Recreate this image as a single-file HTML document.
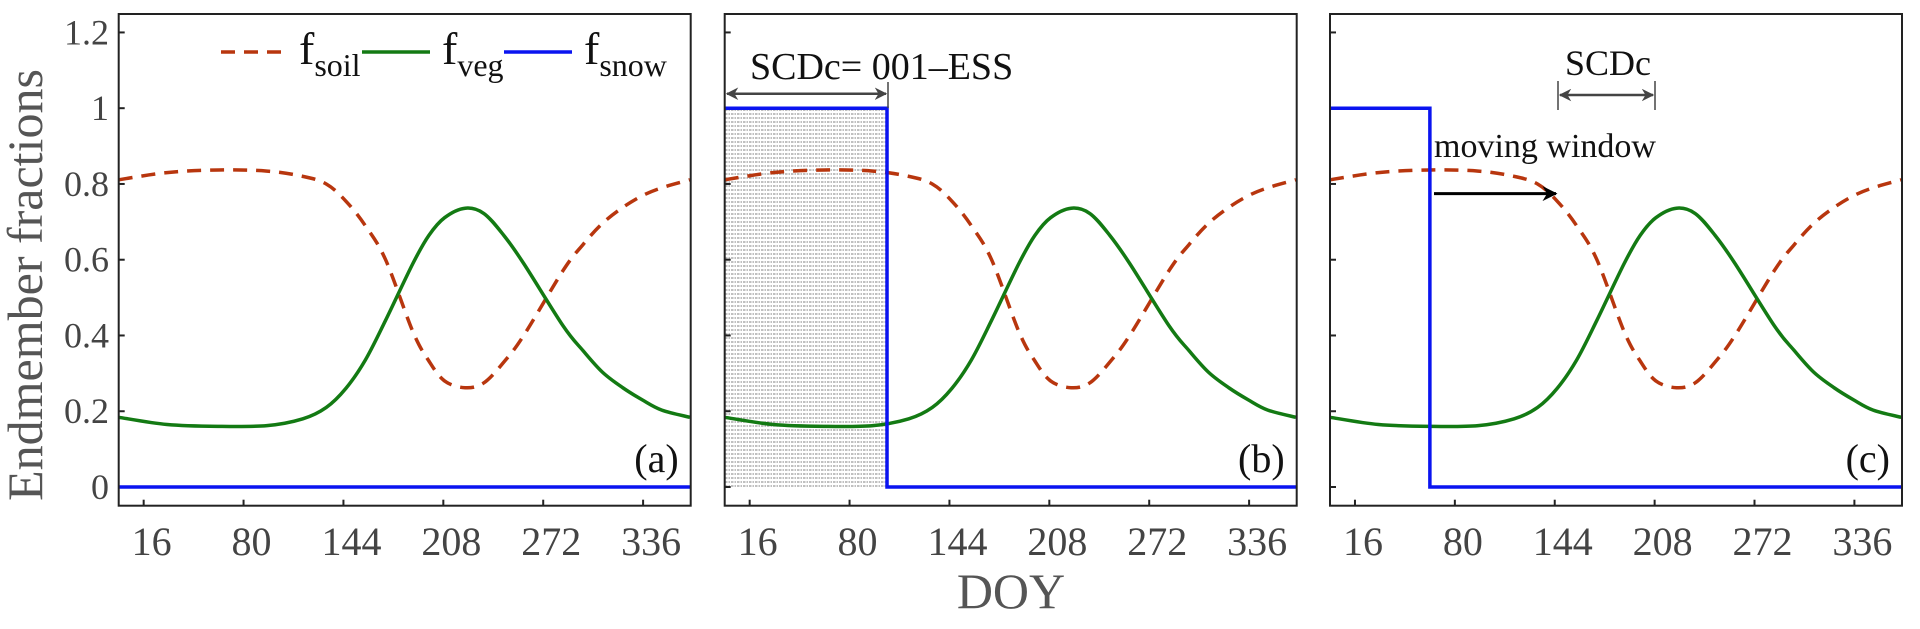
<!DOCTYPE html>
<html><head><meta charset="utf-8"><style>
html,body{margin:0;padding:0;background:#fff;}
svg, svg text{font-family:"Liberation Serif","DejaVu Serif",serif;}
</style></head><body>
<svg id="chart" width="1920" height="624" viewBox="0 0 1920 624" xmlns="http://www.w3.org/2000/svg" font-family="Liberation Serif, serif">
<defs>
<pattern id="hatch" width="6" height="4" patternUnits="userSpaceOnUse">
<line x1="0" y1="2" x2="6" y2="2" stroke="#9a9a9a" stroke-width="1.2" stroke-dasharray="1.5,1"/>
</pattern>
<marker id="ah" viewBox="0 0 10 10" refX="9" refY="5" markerWidth="5" markerHeight="5" orient="auto-start-reverse"><path d="M0,0 L10,5 L0,10 L3,5 z" fill="#444"/></marker>
<marker id="ahb" viewBox="0 0 10 10" refX="9" refY="5" markerWidth="5" markerHeight="5" orient="auto"><path d="M0,0 L10,5 L0,10 L3,5 z" fill="#000"/></marker>
</defs>
<g id="root"></g>
</svg>
<script>
const doyPts = [0,31,64,95,118,133,145.5,158,171,188.5,198.7,208.8,222,234,246.8,259.5,284.8,297.5,310,323,335.5,348,366];
const vegVals = [0.184,0.165,0.16,0.162,0.18,0.21,0.26,0.335,0.44,0.59,0.664,0.711,0.736,0.722,0.664,0.59,0.425,0.36,0.303,0.262,0.23,0.203,0.184];
const soilVals = [0.811,0.83,0.837,0.834,0.82,0.80,0.755,0.69,0.60,0.41,0.333,0.28,0.262,0.275,0.33,0.40,0.572,0.64,0.696,0.738,0.769,0.79,0.811];
const snowEnd = [0, 104, 64];
const panelLabels = ["(a)","(b)","(c)"];
const xTicks = [16,80,144,208,272,336];
const yTicks = [0,0.2,0.4,0.6,0.8,1,1.2];
const yTickLabels = ["0","0.2","0.4","0.6","0.8","1","1.2"];

const NS="http://www.w3.org/2000/svg";
const root=document.getElementById('root');
const panelLeft=[118.7,724.7,1330];
const PW=572, TOP=14, BOT=505.7;
const Y0=487, YU=378.8;
const FF='Liberation Serif, serif';
function xs(p,d){return panelLeft[p]+d*PW/366.5;}
function ys(v){return Y0-v*YU;}
function mk(tag,attrs,parent){const e=document.createElementNS(NS,tag);for(const k in attrs)e.setAttribute(k,attrs[k]);if(tag==='text')e.setAttribute('font-family',FF);(parent||root).appendChild(e);return e;}
function smooth(pts){
  let d='M'+pts[0][0].toFixed(2)+','+pts[0][1].toFixed(2);
  for(let i=0;i<pts.length-1;i++){
    const p0=pts[Math.max(0,i-1)],p1=pts[i],p2=pts[i+1],p3=pts[Math.min(pts.length-1,i+2)];
    const c1=[p1[0]+(p2[0]-p0[0])/6,p1[1]+(p2[1]-p0[1])/6];
    const c2=[p2[0]-(p3[0]-p1[0])/6,p2[1]-(p3[1]-p1[1])/6];
    d+=' C'+c1[0].toFixed(2)+','+c1[1].toFixed(2)+' '+c2[0].toFixed(2)+','+c2[1].toFixed(2)+' '+p2[0].toFixed(2)+','+p2[1].toFixed(2);
  }
  return d;
}

for(let p=0;p<3;p++){
  const g=mk('g',{});
  
  
  const L=panelLeft[p];
  if(p===1){
    const h=mk('rect',{x:L,y:ys(1),width:xs(1,snowEnd[1])-L,height:ys(0)-ys(1),fill:'url(#hatch)'},g);
    
    
  }
  xTicks.forEach(t=>{
    const l=mk('line',{x1:xs(p,t),x2:xs(p,t),y1:BOT,y2:BOT-6,stroke:'#222','stroke-width':2},g);
    
    
    const tx=mk('text',{x:xs(p,t)+8,y:555,'font-size':40,fill:'#444','text-anchor':'middle'},g);
    tx.textContent=t;
    
    
  });
  yTicks.forEach((t,i)=>{
    const l=mk('line',{x1:L,x2:L+6,y1:ys(t),y2:ys(t),stroke:'#222','stroke-width':2},g);
    
    
    if(p===0){
      const tx=mk('text',{x:109,y:ys(t)+12,'font-size':36,fill:'#444','text-anchor':'end'},g);
      tx.textContent=yTickLabels[i];
      
      
    }
  });
  const soil=mk('path',{d:smooth(doyPts.map((d,i)=>[xs(p,d),ys(soilVals[i])])),fill:'none',stroke:'#b8360e','stroke-width':3.5,'stroke-dasharray':'14,9'},g);
  
  
  const veg=mk('path',{d:smooth(doyPts.map((d,i)=>[xs(p,d),ys(vegVals[i])])),fill:'none',stroke:'#137a13','stroke-width':3.5},g);
  
  
  let sd;
  if(snowEnd[p]>0){
    sd='M'+L+','+ys(1)+' H'+xs(p,snowEnd[p])+' V'+ys(0)+' H'+(L+PW);
  } else sd='M'+L+','+ys(0)+' H'+(L+PW);
  const snow=mk('path',{d:sd,fill:'none',stroke:'#0a14f0','stroke-width':3.5},g);
  
  
  const fr=mk('rect',{x:L,y:TOP,width:PW,height:BOT-TOP,fill:'none',stroke:'#222','stroke-width':2},g);
  
  
  const pl=mk('text',{x:L+PW-12,y:472,'font-size':40,fill:'#111','text-anchor':'end'},g);
  pl.textContent=panelLabels[p];
  
  
}

const lg=mk('g',{});


const legendItems=[{x:221,c:'#b8360e',dash:'14,9',f:299,s:'soil'},{x:362,c:'#137a13',dash:'',f:442,s:'veg'},{x:504,c:'#0a14f0',dash:'',f:584,s:'snow'}];
legendItems.forEach(it=>{
  const e=mk('g',{},lg);
  
  
  const a={x1:it.x,x2:it.x+68,y1:52,y2:52,stroke:it.c,'stroke-width':3.5};
  if(it.dash)a['stroke-dasharray']=it.dash;
  mk('line',a,e);
  const t=mk('text',{x:it.f,y:64,'font-size':46,fill:'#111'},e);
  t.textContent='f';
  const s=mk('tspan',{dy:12,'font-size':32},t);
  s.textContent=it.s;
});

const ab=mk('g',{});


const tb=mk('text',{x:750,y:79,'font-size':38,fill:'#111'},ab);
tb.textContent='SCDc= 001–ESS';
mk('line',{x1:888,x2:888,y1:82,y2:108,stroke:'#444','stroke-width':1.5},ab);
mk('line',{x1:727,x2:886,y1:93.7,y2:93.7,stroke:'#444','stroke-width':2.5,'marker-start':'url(#ah)','marker-end':'url(#ah)'},ab);

const ac=mk('g',{});


const tc=mk('text',{x:1608,y:75,'font-size':36,fill:'#111','text-anchor':'middle'},ac);
tc.textContent='SCDc';
mk('line',{x1:1558,x2:1558,y1:81,y2:110,stroke:'#444','stroke-width':1.5},ac);
mk('line',{x1:1655,x2:1655,y1:81,y2:110,stroke:'#444','stroke-width':1.5},ac);
mk('line',{x1:1560,x2:1653,y1:95,y2:95,stroke:'#444','stroke-width':2.5,'marker-start':'url(#ah)','marker-end':'url(#ah)'},ac);
const mw=mk('text',{x:1434,y:157,'font-size':34,fill:'#111'},ac);
mw.textContent='moving window';
mk('line',{x1:1434,x2:1556,y1:193.6,y2:193.6,stroke:'#000','stroke-width':3,'marker-end':'url(#ahb)'},ac);

const yt=mk('text',{x:0,y:0,'font-size':50,fill:'#555','text-anchor':'middle',transform:'translate(42,285) rotate(-90)'});
yt.textContent='Endmember fractions';


const xt=mk('text',{x:1011,y:608,'font-size':50,fill:'#555','text-anchor':'middle'});
xt.textContent='DOY';


</script>
</body></html>
